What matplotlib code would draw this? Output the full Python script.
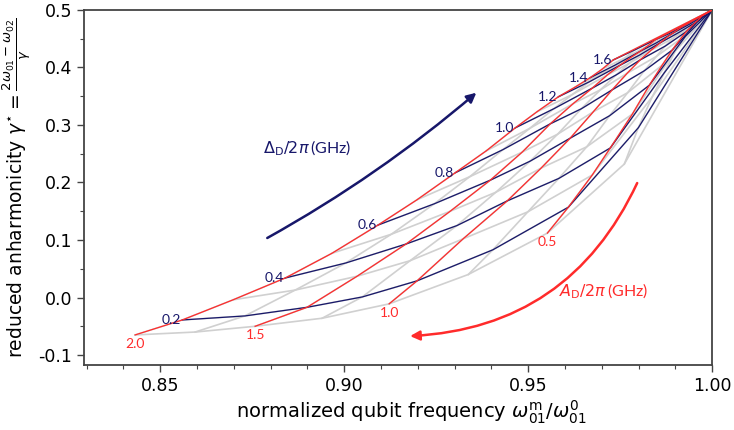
import matplotlib
matplotlib.use("Agg")
import matplotlib.pyplot as plt
from matplotlib.ticker import MultipleLocator, FormatStrFormatter

# drive amplitude A_D/2pi (GHz) -> rows, drive detuning Delta_D/2pi (GHz) -> columns
amp = [2.0, 1.75, 1.5, 1.25, 1.0, 0.75, 0.5, 0.25]
det = [0.1, 0.2, 0.3, 0.4, 0.5, 0.6, 0.7, 0.8, 0.9, 1.0, 1.1, 1.2, 1.3, 1.4, 1.5, 1.6]

# normalized qubit frequency at each (amp, det) node
freq = [
    [0.8432, 0.8560, 0.8698, 0.8840, 0.8967, 0.9092, 0.9198, 0.9302, 0.9386, 0.9465, 0.9524, 0.9582, 0.9628, 0.9668, 0.9701, 0.9731],
    [0.8595, 0.8730, 0.8867, 0.9004, 0.9128, 0.9245, 0.9341, 0.9431, 0.9504, 0.9569, 0.9620, 0.9666, 0.9704, 0.9736, 0.9764, 0.9788],
    [0.8758, 0.8899, 0.9035, 0.9168, 0.9288, 0.9397, 0.9484, 0.9560, 0.9622, 0.9674, 0.9715, 0.9750, 0.9780, 0.9804, 0.9826, 0.9845],
    [0.8940, 0.9049, 0.9179, 0.9306, 0.9412, 0.9505, 0.9580, 0.9644, 0.9696, 0.9739, 0.9774, 0.9804, 0.9829, 0.9849, 0.9865, 0.9880],
    [0.9122, 0.9198, 0.9323, 0.9443, 0.9535, 0.9614, 0.9677, 0.9728, 0.9769, 0.9804, 0.9834, 0.9859, 0.9878, 0.9894, 0.9905, 0.9916],
    [0.9337, 0.9404, 0.9499, 0.9583, 0.9659, 0.9721, 0.9770, 0.9815, 0.9848, 0.9872, 0.9894, 0.9910, 0.9924, 0.9935, 0.9943, 0.9950],
    [0.9552, 0.9609, 0.9674, 0.9723, 0.9783, 0.9829, 0.9864, 0.9891, 0.9913, 0.9929, 0.9943, 0.9954, 0.9961, 0.9967, 0.9971, 0.9976],
    [0.9761, 0.9799, 0.9837, 0.9870, 0.9899, 0.9927, 0.9946, 0.9959, 0.9969, 0.9976, 0.9981, 0.9985, 0.9988, 0.9990, 0.9992, 0.9993],
]
# reduced anharmonicity at each node
anh = [
    [-0.065, -0.039, -0.004, 0.034, 0.077, 0.126, 0.170, 0.217, 0.255, 0.295, 0.323, 0.349, 0.366, 0.382, 0.397, 0.413],
    [-0.060, -0.032, 0.013, 0.060, 0.110, 0.163, 0.210, 0.257, 0.294, 0.328, 0.353, 0.375, 0.391, 0.404, 0.417, 0.430],
    [-0.050, -0.017, 0.037, 0.093, 0.150, 0.204, 0.253, 0.302, 0.337, 0.364, 0.387, 0.404, 0.418, 0.428, 0.438, 0.448],
    [-0.036, 0.001, 0.064, 0.125, 0.183, 0.237, 0.284, 0.328, 0.361, 0.387, 0.407, 0.422, 0.434, 0.443, 0.451, 0.458],
    [-0.011, 0.029, 0.102, 0.168, 0.225, 0.277, 0.323, 0.361, 0.390, 0.413, 0.430, 0.443, 0.453, 0.460, 0.465, 0.470],
    [0.040, 0.083, 0.149, 0.207, 0.262, 0.316, 0.356, 0.394, 0.419, 0.437, 0.451, 0.461, 0.468, 0.474, 0.478, 0.482],
    [0.112, 0.157, 0.213, 0.260, 0.319, 0.369, 0.404, 0.430, 0.449, 0.462, 0.471, 0.478, 0.482, 0.486, 0.489, 0.491],
    [0.232, 0.295, 0.349, 0.391, 0.428, 0.454, 0.469, 0.479, 0.485, 0.489, 0.492, 0.494, 0.495, 0.496, 0.497, 0.498],
]
# undriven qubit: every curve ends here
end_freq, end_anh = 1.0, 0.5

red_amps = [2.0, 1.5, 1.0, 0.5]
blue_dets = [0.2, 0.4, 0.6, 0.8, 1.0, 1.2, 1.4, 1.6]

RED = "#ff2b2b"
NAVY = "#17176a"
GREY = "#d0d0d0"

fig = plt.figure(figsize=(7.34, 4.3), dpi=100)
ax = fig.add_axes([0.1144, 0.151, 0.856, 0.826])


def row(i):
    return freq[i] + [end_freq], anh[i] + [end_anh]


def col(j):
    return [r[j] for r in freq] + [end_freq], [r[j] for r in anh] + [end_anh]


for i in range(len(amp)):
    ax.plot(*row(i), color=GREY, lw=1.2, zorder=1)
for j in range(len(det)):
    ax.plot(*col(j), color=GREY, lw=1.2, zorder=1)

for a in red_amps:
    i = amp.index(a)
    ax.plot(*row(i), color=RED, lw=0.9, zorder=3)
    ax.annotate(f"{a:.1f}", (freq[i][0], anh[i][0]), xytext=(0, -2), textcoords="offset points",
                ha="center", va="top", color=RED, fontsize=10, family="Lato")
for d in blue_dets:
    j = det.index(d)
    ax.plot(*col(j), color=NAVY, lw=0.9, zorder=2)
    ax.annotate(f"{d:.1f}", (freq[0][j], anh[0][j]), xytext=(-1, 0), textcoords="offset points",
                ha="right", va="center", color=NAVY, fontsize=10, family="Lato")

# direction arrows and names of the two families
ax.annotate("", xy=(0.9359, 0.356), xytext=(0.8791, 0.1035),
            arrowprops=dict(arrowstyle="-|>", color=NAVY, lw=1.8, mutation_scale=14,
                            connectionstyle="arc3,rad=0.05", shrinkA=0, shrinkB=0))
ax.text(0.8899, 0.26, r"$\Delta_{\mathrm{D}}/2\pi\,$(GHz)", color=NAVY, fontsize=11.5,
        ha="center", va="center", family="Lato")
ax.annotate("", xy=(0.9179, -0.067), xytext=(0.9796, 0.199),
            arrowprops=dict(arrowstyle="-|>", color=RED, lw=1.8, mutation_scale=14,
                            connectionstyle="arc3,rad=-0.3", shrinkA=0, shrinkB=0))
ax.text(0.9704, 0.010, r"$A_{\mathrm{D}}/2\pi\,$(GHz)", color=RED, fontsize=11.5,
        ha="center", va="center", family="Lato")

ax.set_xlim(0.8293, 1.0)
ax.set_ylim(-0.1174, 0.5)
ax.xaxis.set_major_locator(MultipleLocator(0.05))
ax.xaxis.set_minor_locator(MultipleLocator(0.01))
ax.yaxis.set_major_locator(MultipleLocator(0.1))
ax.yaxis.set_minor_locator(MultipleLocator(0.05))
ax.xaxis.set_major_formatter(FormatStrFormatter("%.2f"))
ax.yaxis.set_major_formatter(plt.FuncFormatter(lambda v, p: f"{v:.1f}".replace("\u2212", "-")))
ax.tick_params(which="both", direction="out", color="#444444", top=False, right=False)
ax.tick_params(which="major", length=5, width=1, labelsize=12.5)
ax.tick_params(which="minor", length=3, width=0.8)
for s in ax.spines.values():
    s.set_color("#444444")
    s.set_linewidth(1.3)

ax.set_xlabel(r"normalized qubit frequency $\omega_{01}^{\mathrm{m}}/\omega_{01}^{0}$", fontsize=14)
ax.xaxis.set_label_coords(0.521, -0.095)
ax.set_ylabel(r"reduced anharmonicity $\gamma^{\star} = \frac{2\omega_{01}-\omega_{02}}{\gamma}$", fontsize=13.5)

fig.savefig("out.png", dpi=100)
